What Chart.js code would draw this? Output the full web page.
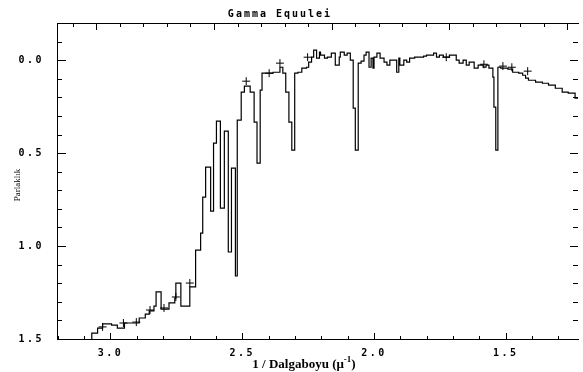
<!DOCTYPE html>
<html>
<head>
<meta charset="utf-8">
<script src="https://cdn.jsdelivr.net/npm/chart.js@4.4.0/dist/chart.umd.min.js"></script>
<style>
  html, body { margin: 0; padding: 0; background: #fff; }
  #wrap { width: 583px; height: 372px; }
</style>
</head>
<body>
<div id="wrap"><canvas id="spec"></canvas></div>
<script>
const chartTitle = "Gamma Equulei";
const xTitle = "1 / Dalgaboyu (μ";
const xTitleSup = "-1";
const yTitle = "Parlaklık";

// 1/lambda at the left edge of each bin, and the magnitude in that bin
const waveNum = [3.071, 3.071, 3.049, 3.030, 2.996, 2.974, 2.947, 2.891, 2.868, 2.853,
  2.835, 2.827, 2.808, 2.778, 2.756, 2.752, 2.733, 2.699, 2.677, 2.658,
  2.650, 2.639, 2.620, 2.609, 2.598, 2.583, 2.568, 2.553, 2.541, 2.526,
  2.519, 2.504, 2.492, 2.470, 2.455, 2.444, 2.432, 2.425, 2.383, 2.357,
  2.346, 2.335, 2.323, 2.312, 2.301, 2.289, 2.274, 2.256, 2.248, 2.237,
  2.229, 2.218, 2.207, 2.203, 2.188, 2.177, 2.162, 2.147, 2.132, 2.128,
  2.113, 2.102, 2.090, 2.079, 2.071, 2.060, 2.049, 2.038, 2.030, 2.019,
  2.011, 2.004, 2.000, 1.989, 1.977, 1.962, 1.951, 1.940, 1.925, 1.914,
  1.906, 1.902, 1.887, 1.876, 1.865, 1.846, 1.827, 1.812, 1.801, 1.774,
  1.763, 1.752, 1.737, 1.714, 1.688, 1.677, 1.662, 1.650, 1.639, 1.620,
  1.605, 1.586, 1.575, 1.564, 1.549, 1.545, 1.538, 1.530, 1.519, 1.492,
  1.474, 1.451, 1.436, 1.425, 1.414, 1.387, 1.361, 1.338, 1.312, 1.286,
  1.263, 1.237, 1.226];
const mag = [1.500, 1.468, 1.441, 1.419, 1.425, 1.441, 1.414, 1.387, 1.366, 1.349,
  1.323, 1.247, 1.339, 1.306, 1.280, 1.199, 1.323, 1.220, 1.022, 0.930,
  0.737, 0.575, 0.812, 0.446, 0.328, 0.796, 0.382, 1.032, 0.581, 1.161,
  0.323, 0.172, 0.140, 0.172, 0.333, 0.554, 0.161, 0.070, 0.065, 0.038,
  0.070, 0.172, 0.333, 0.484, 0.070, 0.065, 0.043, 0.038, 0.011, -0.016,
  -0.054, -0.011, -0.043, -0.027, -0.011, -0.016, -0.038, 0.027, -0.016, -0.043,
  -0.027, -0.038, 0.000, 0.258, 0.484, 0.016, 0.005, -0.027, -0.043, 0.038,
  -0.011, 0.043, -0.016, -0.038, -0.011, 0.011, 0.027, 0.000, 0.000, 0.065,
  -0.011, 0.027, 0.000, 0.011, -0.011, -0.016, -0.016, -0.022, -0.027, -0.038,
  -0.016, -0.027, -0.016, -0.027, 0.000, 0.016, 0.000, 0.027, 0.011, 0.043,
  0.027, 0.038, 0.027, 0.043, 0.091, 0.253, 0.484, 0.038, 0.043, 0.048,
  0.065, 0.070, 0.081, 0.097, 0.108, 0.118, 0.124, 0.134, 0.151, 0.172,
  0.177, 0.204, 0.204];

// the "+" marks
const markX = [3.030, 2.951, 2.902, 2.850, 2.797, 2.752, 2.699, 2.485, 2.398, 2.357, 2.252, 1.726, 1.583, 1.511, 1.477, 1.417];
const markY = [1.435, 1.414, 1.409, 1.344, 1.333, 1.274, 1.199, 0.113, 0.070, 0.016, -0.016, -0.016, 0.022, 0.032, 0.038, 0.059];

const xTickLabels = [3.0, 2.5, 2.0, 1.5];
const yTickLabels = [0.0, 0.5, 1.0, 1.5];

const isIn = (v, list) => list.some(t => Math.abs(t - v) < 1e-6);
const steps = (from, to) => { const out = []; for (let k = from; k <= to; k++) out.push({ value: k / 10 }); return out; };
const monoFont = { family: "DejaVu Sans Mono", size: 10, weight: "bold" };

// inward tick marks on all four sides, plus the texts
const frame = {
  id: "frame",
  beforeDraw(chart) {
    chart.ctx.letterSpacing = "2.5px";
  },
  afterDraw(chart) {
    const { ctx, chartArea: a, scales } = chart;
    ctx.save();
    ctx.strokeStyle = "#000";
    ctx.lineWidth = 1;
    ctx.beginPath();
    scales.x.ticks.forEach(t => {
      const p = Math.round(scales.x.getPixelForValue(t.value)) + 0.5;
      const len = isIn(t.value, xTickLabels) ? 6 : 3;
      ctx.moveTo(p, a.bottom); ctx.lineTo(p, a.bottom - len);
    });
    scales.xTop.ticks.forEach(t => {
      const p = Math.round(scales.xTop.getPixelForValue(t.value)) + 0.5;
      const len = Math.abs(t.value - Math.round(t.value)) < 1e-6 ? 7 : 4;
      ctx.moveTo(p, a.top); ctx.lineTo(p, a.top + len);
    });
    scales.y.ticks.forEach(t => {
      const p = Math.round(scales.y.getPixelForValue(t.value)) + 0.5;
      const major = isIn(t.value, yTickLabels);
      ctx.moveTo(a.left, p); ctx.lineTo(a.left + (major ? 9 : 5), p);
      ctx.moveTo(a.right, p); ctx.lineTo(a.right - (major ? 8 : 5), p);
    });
    ctx.stroke();

    ctx.fillStyle = "#000";
    ctx.letterSpacing = "2px";
    ctx.font = "bold 10px 'DejaVu Sans Mono'";
    ctx.textAlign = "center";
    ctx.textBaseline = "middle";
    ctx.fillText(chartTitle, 280, 14);

    ctx.letterSpacing = "0px";
    ctx.font = "bold 13px 'Liberation Serif'";
    ctx.textAlign = "left";
    const w1 = ctx.measureText(xTitle).width;
    ctx.font = "bold 9px 'Liberation Serif'";
    const w2 = ctx.measureText(xTitleSup).width;
    ctx.font = "bold 13px 'Liberation Serif'";
    const w3 = ctx.measureText(")").width;
    let x0 = 304 - (w1 + w2 + w3) / 2;
    ctx.fillText(xTitle, x0, 365);
    ctx.font = "bold 9px 'Liberation Serif'";
    ctx.fillText(xTitleSup, x0 + w1, 360);
    ctx.font = "bold 13px 'Liberation Serif'";
    ctx.fillText(")", x0 + w1 + w2, 365);

    ctx.translate(18, 185);
    ctx.rotate(-Math.PI / 2);
    ctx.font = "9px 'Liberation Serif'";
    ctx.textAlign = "center";
    ctx.fillText(yTitle, 0, 0);
    ctx.restore();
  }
};

new Chart(document.getElementById("spec"), {
  type: "scatter",
  data: {
    datasets: [{
      data: waveNum.map((w, i) => ({ x: w, y: mag[i] })),
      showLine: true,
      stepped: true,
      borderColor: "#000",
      borderWidth: 1.2,
      pointRadius: 0,
      fill: false
    }, {
      data: markX.map((w, i) => ({ x: w, y: markY[i] })),
      showLine: false,
      pointStyle: "cross",
      pointRadius: 4,
      borderColor: "#000",
      borderWidth: 1
    }]
  },
  options: {
    responsive: true,
    maintainAspectRatio: false,
    devicePixelRatio: 1,
    animation: false,
    layout: { padding: 0 },
    plugins: { legend: { display: false }, tooltip: { enabled: false } },
    scales: {
      x: {
        type: "linear", position: "bottom", reverse: true, min: 1.226, max: 3.203,
        afterFit: s => { s.height = 33; },
        afterBuildTicks: s => { s.ticks = steps(13, 32); },
        ticks: {
          autoSkip: false, maxRotation: 0, padding: 0, color: "#000", font: monoFont,
          callback: v => isIn(v, xTickLabels) ? v.toFixed(1) : ""
        },
        grid: { display: false },
        border: { display: true, color: "#000", width: 1 }
      },
      xTop: {
        type: "linear", axis: "x", position: "top", min: -0.334, max: 4.093,
        afterFit: s => { s.height = 23; },
        afterBuildTicks: s => { s.ticks = steps(-3, 40).filter(t => Math.round(t.value * 10) % 2 === 0); },
        ticks: { display: false },
        grid: { display: false },
        border: { display: true, color: "#000", width: 1 }
      },
      y: {
        type: "linear", position: "left", reverse: true, min: -0.2, max: 1.5,
        afterFit: s => { s.width = 57; },
        afterBuildTicks: s => { s.ticks = steps(-2, 15); },
        ticks: {
          autoSkip: false, padding: 5, color: "#000", font: monoFont,
          callback: v => isIn(v, yTickLabels) ? v.toFixed(1) : ""
        },
        grid: { display: false },
        border: { display: true, color: "#000", width: 1 }
      },
      yRight: {
        type: "linear", axis: "y", position: "right", reverse: true, min: -0.2, max: 1.5,
        afterFit: s => { s.width = 0; },
        ticks: { display: false },
        grid: { display: false },
        border: { display: false }
      }
    }
  },
  plugins: [frame]
});
</script>
</body>
</html>
